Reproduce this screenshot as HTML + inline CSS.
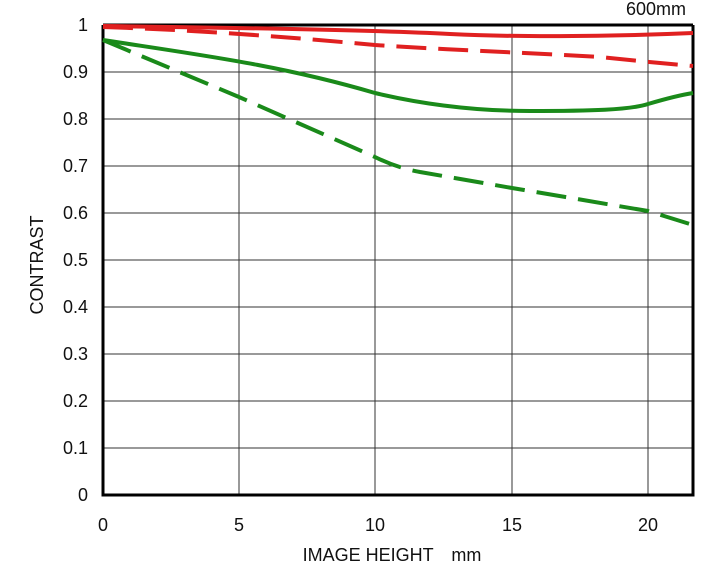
<!DOCTYPE html>
<html><head><meta charset="utf-8"><style>body{margin:0;background:#fff}</style></head><body>
<svg width="720" height="570" xmlns="http://www.w3.org/2000/svg" font-family="Liberation Sans, sans-serif">
<g stroke="#333" stroke-width="1">
<line x1="239" y1="25" x2="239" y2="495"/><line x1="375" y1="25" x2="375" y2="495"/>
<line x1="512" y1="25" x2="512" y2="495"/><line x1="648" y1="25" x2="648" y2="495"/>
<line x1="103" y1="72" x2="693" y2="72"/><line x1="103" y1="119" x2="693" y2="119"/>
<line x1="103" y1="166" x2="693" y2="166"/><line x1="103" y1="213" x2="693" y2="213"/>
<line x1="103" y1="260" x2="693" y2="260"/><line x1="103" y1="307" x2="693" y2="307"/>
<line x1="103" y1="354" x2="693" y2="354"/><line x1="103" y1="401" x2="693" y2="401"/>
<line x1="103" y1="448" x2="693" y2="448"/>
</g>
<path d="M103,25 H693 M103,25 V495 H693 V25" fill="none" stroke="#000" stroke-width="3"/>
<g fill="none" stroke-width="4" stroke-linecap="butt">
<path d="M103,26 C250,28 375,30 450,34 C512,37 600,37 693,33" stroke="#e02020"/>
<path d="M103,27 C200,30 300,38 375,45 C450,50 512,52 600,57 C648,62 670,64 693,66" stroke="#e02020" stroke-dasharray="30,12"/>
<path d="M103,40 C200,55 280,65 375,93 C430,106 480,111 530,111 C590,111 630,110 648,104 C665,99 680,95 693,93" stroke="#1a8a1a"/>
<path d="M103,40 L239,97 L375,157 C395,167 410,170 420,172 L512,188 L648,211 L693,225" stroke="#1a8a1a" stroke-dasharray="30,12"/>
</g>
<g font-size="18" fill="#111" text-anchor="end">
<text x="88" y="31">1</text><text x="88" y="78">0.9</text><text x="88" y="125">0.8</text>
<text x="88" y="172">0.7</text><text x="88" y="219">0.6</text><text x="88" y="266">0.5</text>
<text x="88" y="313">0.4</text><text x="88" y="360">0.3</text><text x="88" y="407">0.2</text>
<text x="88" y="454">0.1</text><text x="88" y="501">0</text>
</g>
<g font-size="18" fill="#111" text-anchor="middle">
<text x="103" y="531">0</text><text x="239" y="531">5</text><text x="375" y="531">10</text>
<text x="512" y="531">15</text><text x="648" y="531">20</text>
<text x="392" y="561">IMAGE HEIGHT　mm</text>
<text x="656" y="15">600mm</text>
<text transform="translate(43,265) rotate(-90)">CONTRAST</text>
</g>
</svg>
</body></html>
